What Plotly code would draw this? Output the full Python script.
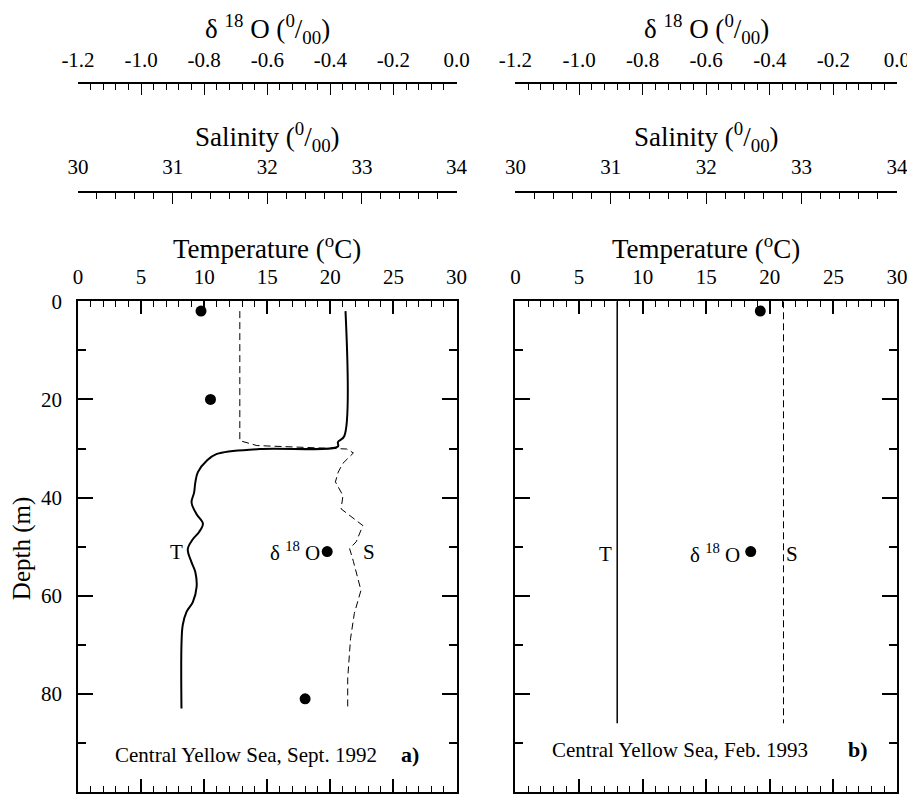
import plotly.graph_objects as go

# ---------------- data ----------------
# Panel a) Central Yellow Sea, Sept. 1992
a_T_depth = [2, 27.5, 28.7, 29.6, 30.1, 31.1, 32.5, 34.8, 36.9, 39.0, 41.0, 43.4, 45.3,
             47.0, 48.5, 50.5, 53.2, 55.2, 58.2, 61.3, 63.3, 66.0, 70.0, 83.0]
a_T_temp = [21.2, 21.1, 20.6, 20.6, 14.4, 11.0, 10.2, 9.5, 9.3, 9.2, 9.0, 9.4, 9.9,
            9.6, 9.1, 8.7, 9.0, 9.3, 9.4, 9.1, 8.6, 8.3, 8.2, 8.2]
a_S_depth = [2, 28.4, 29.4, 30.1, 30.9, 33.0, 34.8, 36.8, 39.6, 42.3, 45.7, 49.0,
             50.4, 53.0, 58.9, 63.6, 68.7, 76.8, 82.9]
a_S_sal = [31.71, 31.71, 31.89, 32.84, 32.91, 32.80, 32.75, 32.72, 32.80, 32.78, 33.01,
           32.94, 32.87, 32.91, 32.99, 32.92, 32.88, 32.85, 32.85]
a_O_depth = [2, 20, 51, 81]
a_O_d18 = [-0.81, -0.78, -0.41, -0.48]

# Panel b) Central Yellow Sea, Feb. 1993
b_T_depth = [0, 86]
b_T_temp = [8.0, 8.0]
b_S_depth = [0, 86]
b_S_sal = [32.81, 32.81]
b_O_depth = [2, 51]
b_O_d18 = [-0.43, -0.46]

# tick labels
temp_ticks = [0, 5, 10, 15, 20, 25, 30]
sal_ticks = [30, 31, 32, 33, 34]
sal_labels = ["30", "31", "32", "33", "34"]
d18_ticks = [-1.2, -1.0, -0.8, -0.6, -0.4, -0.2, 0.0]
d18_labels = ["-1.2", "-1.0", "-0.8", "-0.6", "-0.4", "-0.2", "0.0"]
depth_ticks = [0, 20, 40, 60, 80, 100]

FONT = "Liberation Serif"
TICKF = dict(family=FONT, size=21, color="black")

# the page body adds an 8px offset; layout in reference-pixel terms
OFF = 8
W, H = 915 - OFF, 799 - OFF
ML, MR, MT, MB = 78 - OFF, 17, 40 - OFF, 5
PW, PH = W - ML - MR, H - MT - MB


def py(pix):
    return (H - MB - (pix - OFF)) / PH


def px(pix):
    return (pix - OFF - ML) / PW


dom_a = [0, px(457)]
dom_b = [px(516), 1]
ydom = [0, py(302)]
pos_d18 = py(83.5)
pos_sal = py(192.5)

fig = go.Figure()

line_T = dict(color="black", width=2)
line_S = dict(color="black", width=1, dash="7px,4px")
mk = dict(color="black", size=11)

# panel a
fig.add_trace(go.Scatter(x=a_T_temp, y=a_T_depth, xaxis="x", yaxis="y", mode="lines",
                         line=line_T, line_shape="spline"))
fig.add_trace(go.Scatter(x=a_S_sal, y=a_S_depth, xaxis="x4", yaxis="y", mode="lines",
                         line=line_S))
fig.add_trace(go.Scatter(x=a_O_d18, y=a_O_depth, xaxis="x3", yaxis="y", mode="markers",
                         marker=mk, cliponaxis=False))
# panel b
fig.add_trace(go.Scatter(x=b_T_temp, y=b_T_depth, xaxis="x2", yaxis="y2", mode="lines",
                         line=dict(color="black", width=1.5)))
fig.add_trace(go.Scatter(x=b_S_sal, y=b_S_depth, xaxis="x6", yaxis="y2", mode="lines",
                         line=line_S))
fig.add_trace(go.Scatter(x=b_O_d18, y=b_O_depth, xaxis="x5", yaxis="y2", mode="markers",
                         marker=mk, cliponaxis=False))


def temp_axis(dom, anchor):
    return dict(domain=dom, anchor=anchor, range=[0, 30], side="top",
                tickvals=temp_ticks, ticks="inside", ticklen=13, tickwidth=1.5,
                tickcolor="black", minor=dict(dtick=1, ticks="inside", ticklen=6,
                                              tickwidth=1.2, tickcolor="black"),
                showline=True, linewidth=1.5, linecolor="black", mirror="ticks",
                showgrid=False, zeroline=False, tickfont=TICKF, ticklabelstandoff=7)


def depth_axis(anchor, labels):
    return dict(domain=ydom, anchor=anchor, range=[100, 0], tickvals=depth_ticks,
                ticks="inside", ticklen=15, tickwidth=1.5, tickcolor="black",
                minor=dict(dtick=10, ticks="inside", ticklen=8, tickwidth=1.5,
                           tickcolor="black"),
                showline=True, linewidth=1.5, linecolor="black", mirror="ticks",
                showgrid=False, zeroline=False, tickfont=TICKF,
                showticklabels=labels, ticklabelstandoff=10)


def free_axis(over, pos, rng, vals, text, mdt, standoff):
    return dict(overlaying=over, anchor="free", position=pos, side="top", range=rng,
                tickvals=vals, ticktext=text, ticks="inside", ticklen=11, tickwidth=1.3,
                tickcolor="black", minor=dict(dtick=mdt, ticks="inside", ticklen=6,
                                              tickwidth=1.2, tickcolor="black"),
                showline=True, linewidth=1.5, linecolor="black", showgrid=False,
                zeroline=False, tickfont=TICKF, ticklabelstandoff=standoff)


fig.update_layout(
    width=W, height=H, margin=dict(l=ML, r=MR, t=MT, b=MB),
    paper_bgcolor="white", plot_bgcolor="rgba(0,0,0,0)", showlegend=False,
    font=dict(family=FONT, color="black"), hovermode=False,
    xaxis=temp_axis(dom_a, "y"),
    xaxis2=temp_axis(dom_b, "y2"),
    yaxis=depth_axis("x", True),
    yaxis2=depth_axis("x2", False),
    xaxis3=free_axis("x", pos_d18, [-1.2, 0], d18_ticks, d18_labels, 0.04, 7),
    xaxis4=free_axis("x", pos_sal, [30, 34], sal_ticks, sal_labels, 0.2, 9),
    xaxis5=free_axis("x2", pos_d18, [-1.2, 0], d18_ticks, d18_labels, 0.04, 7),
    xaxis6=free_axis("x2", pos_sal, [30, 34], sal_ticks, sal_labels, 0.2, 9),
)

TITLEF = dict(family=FONT, size=27, color="black")
ann = []
titles = [("δ <sup>18</sup> O (<sup>0</sup>/<sub>00</sub>)", py(29)),
          ("Salinity (<sup>0</sup>/<sub>00</sub>)", py(137)),
          ("Temperature (<sup>o</sup>C)", py(248))]
for dom in (dom_a, dom_b):
    for txt, yy in titles:
        ann.append(dict(text=txt, xref="paper", yref="paper", x=(dom[0] + dom[1]) / 2,
                        y=yy, xanchor="center", yanchor="middle", showarrow=False,
                        font=TITLEF))

ann.append(dict(text="Depth (m)", xref="paper", yref="y", x=px(22), y=50.5,
                textangle=-90, showarrow=False, font=dict(family=FONT, size=25),
                xanchor="center", yanchor="middle"))

LF = dict(family=FONT, size=21, color="black")
labels = [
    ("x", "y", "T", 7.8, 51, "center"),
    ("x", "y", "δ <sup>18</sup> O", 19.3, 51, "right"),
    ("x", "y", "S", 23.1, 51, "center"),
    ("x", "y", "Central Yellow Sea, Sept. 1992", 13.35, 92.4, "center"),
    ("x2", "y2", "T", 7.07, 51.4, "center"),
    ("x2", "y2", "δ <sup>18</sup> O", 17.8, 51.4, "right"),
    ("x2", "y2", "S", 21.75, 51.4, "center"),
    ("x2", "y2", "Central Yellow Sea, Feb. 1993", 12.9, 91.4, "center"),
]
for xr, yr, t, xx, yy, xa in labels:
    ann.append(dict(text=t, xref=xr, yref=yr, x=xx, y=yy, xanchor=xa, yanchor="middle",
                    showarrow=False, font=LF))
ann.append(dict(text="<b>a)</b>", xref="x", yref="y", x=26.3, y=92.4, showarrow=False,
                font=dict(family=FONT, size=22), xanchor="center", yanchor="middle"))
ann.append(dict(text="<b>b)</b>", xref="x2", yref="y2", x=26.9, y=91.4, showarrow=False,
                font=dict(family=FONT, size=22), xanchor="center", yanchor="middle"))

fig.update_layout(annotations=ann)
fig.write_html("out.html")
